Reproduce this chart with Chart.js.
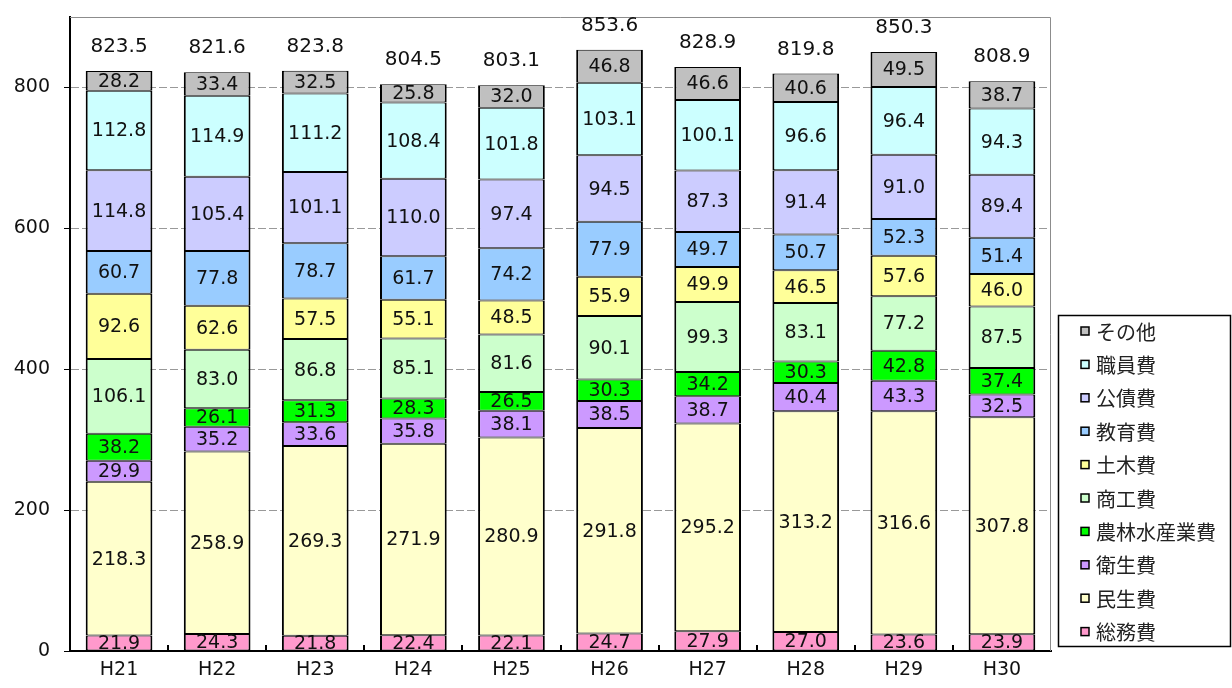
<!DOCTYPE html>
<html>
<head>
<meta charset="utf-8">
<script src="https://cdn.jsdelivr.net/npm/chart.js"></script>
<style>
  html, body { margin: 0; padding: 0; background: #fff; }
  #wrap { width: 1232px; height: 688px; position: relative; }
</style>
</head>
<body>
<div id="wrap"><canvas id="chart"></canvas></div>
<script>
// categories
const years = ['H21', 'H22', 'H23', 'H24', 'H25', 'H26', 'H27', 'H28', 'H29', 'H30'];

// series values (bottom to top)
const soumu   = [21.9, 24.3, 21.8, 22.4, 22.1, 24.7, 27.9, 27.0, 23.6, 23.9];
const minsei  = [218.3, 258.9, 269.3, 271.9, 280.9, 291.8, 295.2, 313.2, 316.6, 307.8];
const eisei   = [29.9, 35.2, 33.6, 35.8, 38.1, 38.5, 38.7, 40.4, 43.3, 32.5];
const nourin  = [38.2, 26.1, 31.3, 28.3, 26.5, 30.3, 34.2, 30.3, 42.8, 37.4];
const shoukou = [106.1, 83.0, 86.8, 85.1, 81.6, 90.1, 99.3, 83.1, 77.2, 87.5];
const doboku  = [92.6, 62.6, 57.5, 55.1, 48.5, 55.9, 49.9, 46.5, 57.6, 46.0];
const kyouiku = [60.7, 77.8, 78.7, 61.7, 74.2, 77.9, 49.7, 50.7, 52.3, 51.4];
const kousai  = [114.8, 105.4, 101.1, 110.0, 97.4, 94.5, 87.3, 91.4, 91.0, 89.4];
const shokuin = [112.8, 114.9, 111.2, 108.4, 101.8, 103.1, 100.1, 96.6, 96.4, 94.3];
const sonota  = [28.2, 33.4, 32.5, 25.8, 32.0, 46.8, 46.6, 40.6, 49.5, 38.7];

// totals printed above each bar
const totals = [823.5, 821.6, 823.8, 804.5, 803.1, 853.6, 828.9, 819.8, 850.3, 808.9];

// y axis tick labels
const yTicks = [0, 200, 400, 600, 800];

const NUM_FONT = '"DejaVu Sans", sans-serif';
const JP_FONT = '"Noto Sans CJK JP", sans-serif';

const series = [
  { label: '総務費', data: soumu, color: '#ff99cc' },
  { label: '民生費', data: minsei, color: '#ffffcc' },
  { label: '衛生費', data: eisei, color: '#cc99ff' },
  { label: '農林水産業費', data: nourin, color: '#00ff00' },
  { label: '商工費', data: shoukou, color: '#ccffcc' },
  { label: '土木費', data: doboku, color: '#ffff99' },
  { label: '教育費', data: kyouiku, color: '#99ccff' },
  { label: '公債費', data: kousai, color: '#ccccff' },
  { label: '職員費', data: shokuin, color: '#ccffff' },
  { label: 'その他', data: sonota, color: '#c0c0c0' },
];

// plot frame (gray top/right) and inward x tick marks
const framePlugin = {
  id: 'frame',
  beforeDatasetsDraw(chart) {
    const { ctx, chartArea: a } = chart;
    ctx.save();
    ctx.strokeStyle = '#8c8c8c';
    ctx.lineWidth = 1;
    ctx.beginPath();
    ctx.moveTo(a.left, a.top + 0.5);
    ctx.lineTo(a.right - 0.5, a.top + 0.5);
    ctx.lineTo(a.right - 0.5, a.bottom);
    ctx.stroke();
    ctx.restore();
  },
  afterDatasetsDraw(chart) {
    const { ctx, chartArea: a } = chart;
    const step = (a.right - a.left) / years.length;
    ctx.save();
    ctx.strokeStyle = '#000';
    ctx.lineWidth = 2;
    for (let i = 1; i < years.length; i++) {
      const px = Math.round(a.left + step * i);
      ctx.beginPath();
      ctx.moveTo(px, a.bottom);
      ctx.lineTo(px, a.bottom - 6);
      ctx.stroke();
    }
    ctx.restore();
  }
};

// value labels inside segments and totals on top
const labelPlugin = {
  id: 'valueLabels',
  afterDatasetsDraw(chart) {
    const { ctx } = chart;
    ctx.save();
    ctx.font = '19px ' + NUM_FONT;
    ctx.fillStyle = '#111';
    ctx.textAlign = 'center';
    ctx.textBaseline = 'middle';
    chart.data.datasets.forEach((ds, di) => {
      const meta = chart.getDatasetMeta(di);
      meta.data.forEach((el, i) => {
        const v = ds.data[i];
        ctx.fillText(v.toFixed(1), el.x, (el.y + el.base) / 2 + 1);
      });
    });
    ctx.font = '20px ' + NUM_FONT;
    const top = chart.getDatasetMeta(chart.data.datasets.length - 1);
    top.data.forEach((el, i) => {
      ctx.fillText(totals[i].toFixed(1), el.x, el.y - 24);
    });
    ctx.restore();
  }
};

// boxed legend on the right
const legendPlugin = {
  id: 'boxLegend',
  afterDraw(chart) {
    const { ctx } = chart;
    const items = chart.data.datasets.slice().reverse();
    const left = 1058, top = 315, w = 173, h = 332;
    ctx.save();
    ctx.fillStyle = '#fff';
    ctx.fillRect(left, top, w, h);
    ctx.strokeStyle = '#000';
    ctx.lineWidth = 1.5;
    ctx.strokeRect(left + 0.5, top + 0.5, w - 1, h - 1);
    ctx.font = '20px ' + JP_FONT;
    ctx.textBaseline = 'middle';
    ctx.textAlign = 'left';
    items.forEach((ds, i) => {
      const cy = 331 + i * 33.4;
      ctx.fillStyle = ds.backgroundColor;
      ctx.fillRect(1081, cy - 4, 8, 8);
      ctx.strokeStyle = '#000';
      ctx.lineWidth = 1.5;
      ctx.strokeRect(1081, cy - 4, 8, 8);
      ctx.fillStyle = '#222';
      ctx.fillText(ds.label, 1096, cy + 1);
    });
    ctx.restore();
  }
};

new Chart(document.getElementById('chart'), {
  type: 'bar',
  data: {
    labels: years,
    datasets: series.map(s => ({
      label: s.label,
      data: s.data,
      backgroundColor: s.color,
      borderColor: '#000',
      borderWidth: { top: 1, bottom: 1, left: 2, right: 2 },
      borderSkipped: false,
      categoryPercentage: 1,
      barPercentage: 0.68,
    })),
  },
  options: {
    responsive: true,
    maintainAspectRatio: false,
    animation: false,
    layout: { padding: { top: 17, right: 181, left: 0, bottom: 0 } },
    plugins: {
      legend: { display: false },
      tooltip: { enabled: false },
    },
    scales: {
      x: {
        stacked: true,
        afterFit: s => { s.height = 37; },
        grid: { drawOnChartArea: false, drawTicks: false },
        border: { color: '#000', width: 2 },
        ticks: { font: { family: NUM_FONT, size: 19 }, color: '#111', padding: 8 },
      },
      y: {
        stacked: true,
        min: 0,
        max: 900,
        afterFit: s => { s.width = 70; s.paddingTop = 0; s.paddingBottom = 0; },
        afterBuildTicks: s => { s.ticks = yTicks.map(v => ({ value: v })); },
        grid: {
          color: c => (c.tick && c.tick.value === 0 ? 'rgba(0,0,0,0)' : '#999'),
          lineWidth: 1,
          tickColor: '#000',
          tickLength: 6,
          tickBorderDash: [],
        },
        border: { color: '#000', width: 2, dash: [8, 3] },
        ticks: { font: { family: NUM_FONT, size: 19 }, color: '#111', padding: 14 },
      },
    },
  },
  plugins: [framePlugin, labelPlugin, legendPlugin],
});
</script>
</body>
</html>
